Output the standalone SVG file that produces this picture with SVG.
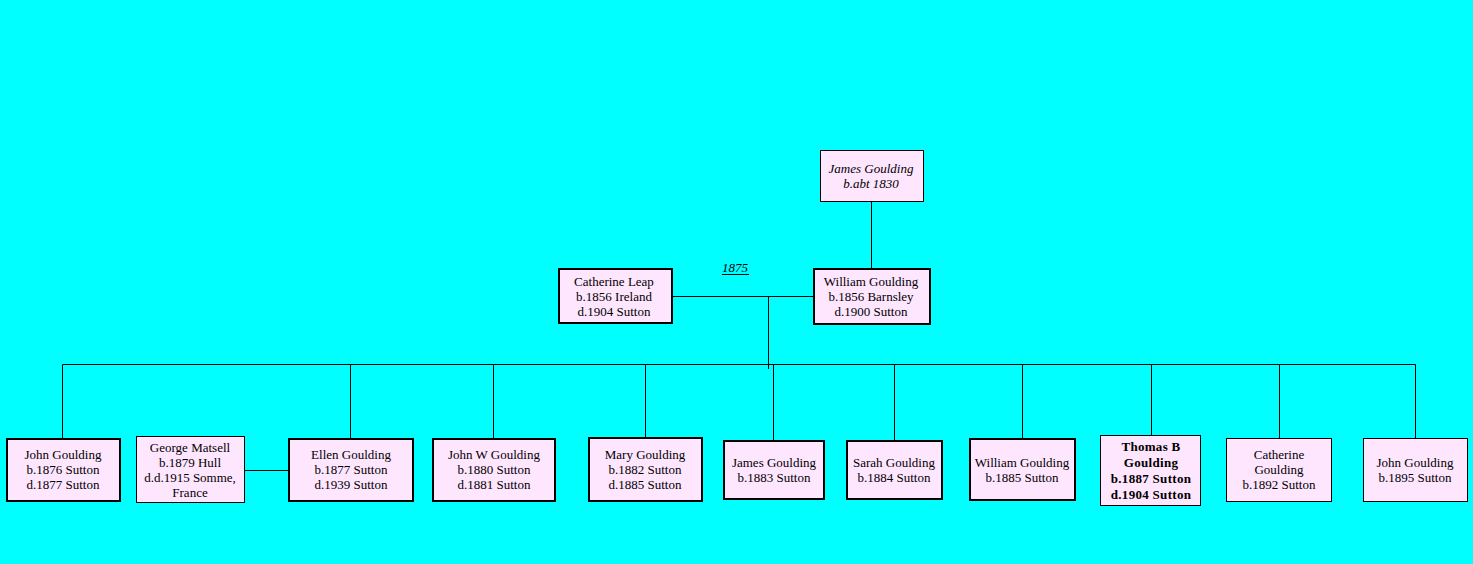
<svg xmlns="http://www.w3.org/2000/svg" width="1473" height="564" viewBox="0 0 1473 564">
<style>
.bg{fill:#00ffff}
.b{fill:#ffe6ff;stroke:#000;stroke-width:1}
.bt{fill:#ffe6ff;stroke:#000;stroke-width:2}
text{font-family:"Liberation Serif","Times New Roman",serif;font-size:13px;fill:#000;text-anchor:middle}
.it{font-style:italic}
.bd{font-weight:bold;letter-spacing:0.3px}
.c{stroke:#000;stroke-width:1;fill:none}
</style>
<defs>
<clipPath id="gm"><rect x="136" y="436" width="109" height="67"/></clipPath>
</defs>
<rect class="bg" x="0" y="0" width="1473" height="564"/>
<g id="connectors">
<path class="c" d="M871.5 201 V268"/>
<path class="c" d="M672 296.5 H813"/>
<path class="c" d="M768.5 296 V369"/>
<path class="c" d="M62.5 438 V364.5 H1415.5 V438"/>
<path class="c" d="M350.5 364 V438"/>
<path class="c" d="M493.5 364 V438"/>
<path class="c" d="M645.5 364 V437"/>
<path class="c" d="M773.5 364 V440"/>
<path class="c" d="M894.5 364 V440"/>
<path class="c" d="M1022.5 364 V438"/>
<path class="c" d="M1151.5 364 V435"/>
<path class="c" d="M1279.5 364 V438"/>
<path class="c" d="M245 470.5 H288"/>
<text class="it" x="735" y="272">1875</text>
<path class="c" d="M722 274.5 H749"/>
</g>
<g id="james-top">
<rect class="b" x="820.5" y="150.5" width="103" height="51"/>
<text class="it" x="871" y="173">James Goulding</text>
<text class="it" x="871" y="188">b.abt 1830</text>
</g>
<g id="catherine-leap">
<rect class="bt" x="559" y="269" width="113" height="54"/>
<text x="614" y="286">Catherine Leap</text>
<text x="614" y="301">b.1856 Ireland</text>
<text x="614" y="316">d.1904 Sutton</text>
</g>
<g id="william-goulding">
<rect class="bt" x="814" y="269" width="116" height="55"/>
<text x="871" y="286">William Goulding</text>
<text x="871" y="301">b.1856 Barnsley</text>
<text x="871" y="316">d.1900 Sutton</text>
</g>
<g id="john-1876">
<rect class="bt" x="7" y="439" width="113" height="62"/>
<text x="63" y="459">John Goulding</text>
<text x="63" y="474">b.1876 Sutton</text>
<text x="63" y="489">d.1877 Sutton</text>
</g>
<g id="george-matsell">
<rect class="b" x="136.5" y="436.5" width="108" height="66"/>
<g clip-path="url(#gm)">
<text x="190" y="452">George Matsell</text>
<text x="190" y="467">b.1879 Hull</text>
<text x="190" y="482">d.d.1915 Somme,</text>
<text x="190" y="497">France</text>
</g>
</g>
<g id="ellen-goulding">
<rect class="bt" x="289" y="439" width="124" height="62"/>
<text x="351" y="459">Ellen Goulding</text>
<text x="351" y="474">b.1877 Sutton</text>
<text x="351" y="489">d.1939 Sutton</text>
</g>
<g id="john-w-goulding">
<rect class="bt" x="433" y="439" width="122" height="62"/>
<text x="494" y="459">John W Goulding</text>
<text x="494" y="474">b.1880 Sutton</text>
<text x="494" y="489">d.1881 Sutton</text>
</g>
<g id="mary-goulding">
<rect class="bt" x="589" y="438" width="113" height="63"/>
<text x="645" y="459">Mary Goulding</text>
<text x="645" y="474">b.1882 Sutton</text>
<text x="645" y="489">d.1885 Sutton</text>
</g>
<g id="james-goulding">
<rect class="bt" x="724" y="441" width="100" height="58"/>
<text x="774" y="467">James Goulding</text>
<text x="774" y="482">b.1883 Sutton</text>
</g>
<g id="sarah-goulding">
<rect class="bt" x="847" y="441" width="95" height="58"/>
<text x="894" y="467">Sarah Goulding</text>
<text x="894" y="482">b.1884 Sutton</text>
</g>
<g id="william-1885">
<rect class="bt" x="970" y="439" width="105" height="61"/>
<text x="1022" y="467">William Goulding</text>
<text x="1022" y="482">b.1885 Sutton</text>
</g>
<g id="thomas-b-goulding">
<rect class="b" x="1100.5" y="435.5" width="100" height="70"/>
<text class="bd" x="1151" y="451">Thomas B</text>
<text class="bd" x="1151" y="467">Goulding</text>
<text class="bd" x="1151" y="483">b.1887 Sutton</text>
<text class="bd" x="1151" y="499">d.1904 Sutton</text>
</g>
<g id="catherine-goulding">
<rect class="b" x="1226.5" y="438.5" width="105" height="63"/>
<text x="1279" y="459">Catherine</text>
<text x="1279" y="474">Goulding</text>
<text x="1279" y="489">b.1892 Sutton</text>
</g>
<g id="john-1895">
<rect class="b" x="1363.5" y="438.5" width="104" height="63"/>
<text x="1415" y="467">John Goulding</text>
<text x="1415" y="482">b.1895 Sutton</text>
</g>
</svg>
